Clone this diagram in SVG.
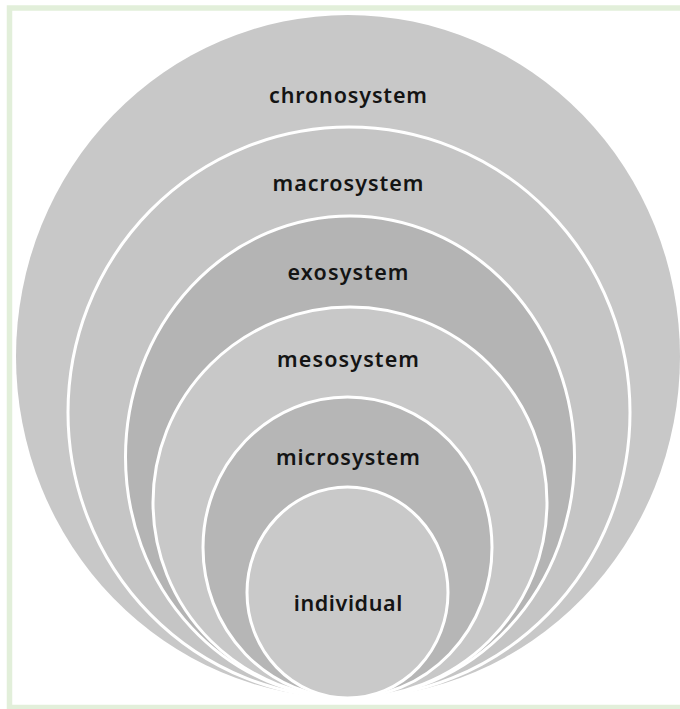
<svg xmlns="http://www.w3.org/2000/svg" width="680" height="709" viewBox="0 0 680 709">
<style>
.ring{stroke:#ffffff;stroke-width:3}
.lbl{font-family:"Noto Sans","DejaVu Sans",sans-serif;font-size:21.5px;font-weight:600;fill:#141414;text-anchor:middle}
</style>
<rect x="9.5" y="8" width="700" height="699.5" fill="#ffffff" stroke="#e2efda" stroke-width="5.5"/>
<g id="chronosystem">
<ellipse cx="348" cy="356.5" rx="332" ry="341.5" fill="#c8c8c8"/>
<text class="lbl" x="348" y="103" textLength="158" lengthAdjust="spacing">chronosystem</text>
</g>
<g id="macrosystem">
<ellipse class="ring" cx="349" cy="412.5" rx="281" ry="285.5" fill="#c5c5c5"/>
<text class="lbl" x="348" y="191" textLength="151" lengthAdjust="spacing">macrosystem</text>
</g>
<g id="exosystem">
<ellipse class="ring" cx="350" cy="457" rx="224.5" ry="241" fill="#b4b4b4"/>
<text class="lbl" x="348" y="280" textLength="121" lengthAdjust="spacing">exosystem</text>
</g>
<g id="mesosystem">
<ellipse class="ring" cx="350" cy="502.5" rx="197" ry="195.5" fill="#c8c8c8"/>
<text class="lbl" x="348" y="367" textLength="142" lengthAdjust="spacing">mesosystem</text>
</g>
<g id="microsystem">
<ellipse class="ring" cx="347.5" cy="547.5" rx="144.5" ry="150.5" fill="#b6b6b6"/>
<text class="lbl" x="348" y="465" textLength="144" lengthAdjust="spacing">microsystem</text>
</g>
<g id="individual">
<ellipse class="ring" cx="347.5" cy="592.5" rx="100.5" ry="105.5" fill="#c9c9c9"/>
<text class="lbl" x="348" y="611" textLength="108.5" lengthAdjust="spacing">individual</text>
</g>
<g id="connectors"/>
</svg>
